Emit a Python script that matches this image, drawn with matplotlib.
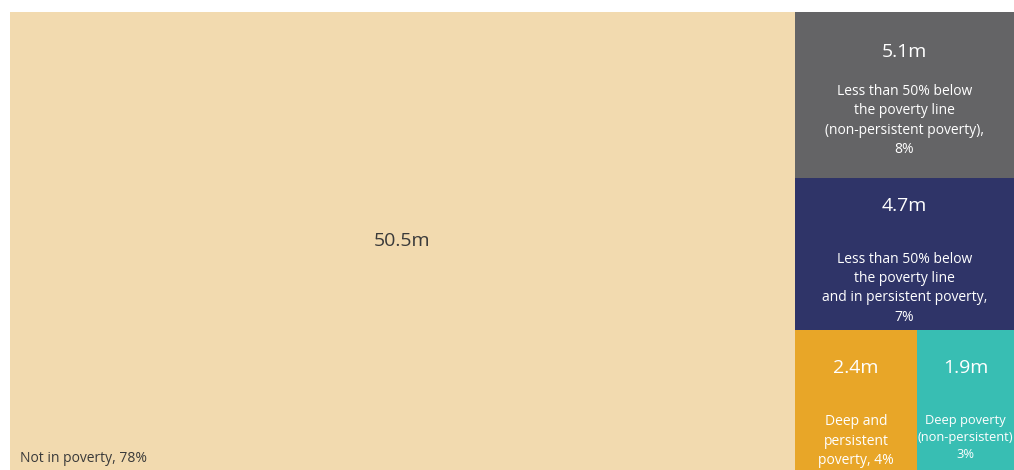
import matplotlib
matplotlib.use("Agg")
import matplotlib.pyplot as plt
from matplotlib.patches import Rectangle

# ---- data ----
categories = [
    "Not in poverty",
    "Less than 50% below\nthe poverty line\n(non-persistent poverty)",
    "Less than 50% below\nthe poverty line\nand in persistent poverty",
    "Deep and\npersistent\npoverty",
    "Deep poverty\n(non-persistent)",
]
values_m = [50.5, 5.1, 4.7, 2.4, 1.9]
shares_pct = [78, 8, 7, 4, 3]
value_labels = ["50.5m", "5.1m", "4.7m", "2.4m", "1.9m"]

colors = ["#F2DAAF", "#646466", "#2F3468", "#E8A628", "#38BEB3"]
text_colors = ["#3a3a3a", "white", "white", "white", "white"]

plt.rcParams['font.family'] = ['Open Sans', 'DejaVu Sans']

fig = plt.figure(figsize=(10.14, 4.70), dpi=100)
ax = fig.add_axes([10/1014, 0, 1004/1014, 458/470])
ax.set_xlim(0, 1)
ax.set_ylim(1, 0)
ax.axis("off")

# ---- treemap layout computed from values ----
total = sum(values_m)
w0 = values_m[0] / total
rects = [(0, 0, w0, 1)]
right_total = sum(values_m[1:])
rw = 1 - w0
y = 0
for v in values_m[1:3]:
    h = v / right_total
    rects.append((w0, y, rw, h))
    y += h
bh = 1 - y
bottom_total = sum(values_m[3:])
x = w0
for v in values_m[3:]:
    w = rw * v / bottom_total
    rects.append((x, y, w, bh))
    x += w

for (rx, ry, rwid, rh), c in zip(rects, colors):
    ax.add_patch(Rectangle((rx, ry), rwid, rh, facecolor=c, edgecolor="none"))

# big cell
rx, ry, rwid, rh = rects[0]
ax.text(rx + rwid / 2, ry + rh / 2, value_labels[0], ha="center", va="center",
        fontsize=14, color=text_colors[0])
ax.annotate(f"{categories[0]}, {shares_pct[0]}%", xy=(rx, ry + rh), xytext=(10, 4),
            textcoords="offset pixels", ha="left", va="bottom",
            fontsize=10, color=text_colors[0])

num_offsets = [40, 28, 38, 38]
lab_offsets = [72, 74, 84, 84]
lab_sizes = [10, 10, 10, 9.3]
for i in range(1, 5):
    rx, ry, rwid, rh = rects[i]
    cx = rx + rwid / 2
    ax.annotate(value_labels[i], xy=(cx, ry), xytext=(0, -num_offsets[i - 1]),
                textcoords="offset pixels", ha="center", va="center",
                fontsize=14, color=text_colors[i])
    if i == 3:
        label = f"{categories[i]}, {shares_pct[i]}%"
    elif i == 4:
        label = f"{categories[i]}\n{shares_pct[i]}%"
    else:
        label = f"{categories[i]},\n{shares_pct[i]}%"
    ax.annotate(label, xy=(cx, ry), xytext=(0, -lab_offsets[i - 1]),
                textcoords="offset pixels", ha="center", va="top",
                fontsize=lab_sizes[i - 1], color=text_colors[i], linespacing=1.4)

fig.savefig("out.png", dpi=100)
